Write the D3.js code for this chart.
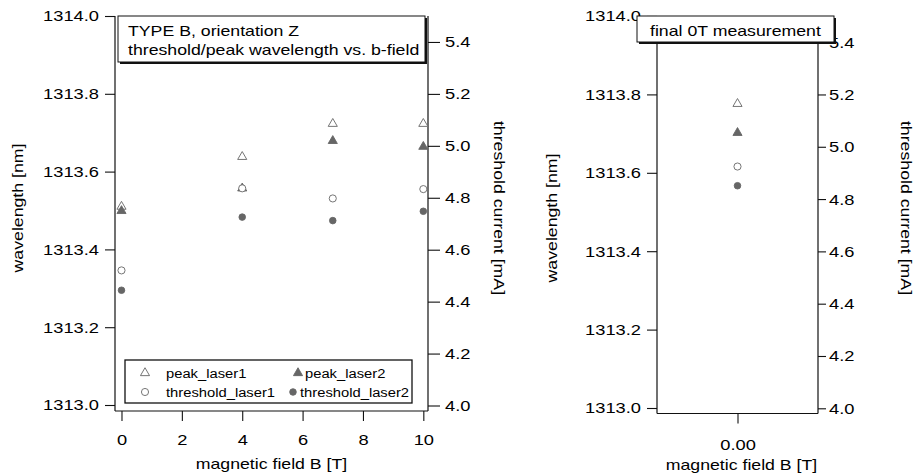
<!DOCTYPE html>
<html>

<head>
    <meta charset="UTF-8">
    <style>
        body { margin: 0; background: #fff; }
        svg { display: block; font-family: "Liberation Sans", Arial, Helvetica, sans-serif; }
    </style>
</head>

<body>
    <svg></svg>
    <script src="https://d3js.org/d3.v7.min.js"></script>

    <script>

        let width = 916, height = 474;

        // data (wavelength in nm)
        let fieldB = [0, 4, 7, 10];
        let peakLaser1 = [1313.510, 1313.638, 1313.723, 1313.723];
        let peakLaser2 = [1313.499, 1313.557, 1313.679, 1313.664];
        let thresholdLaser1 = [1313.346, 1313.557, 1313.531, 1313.555];
        let thresholdLaser2 = [1313.295, 1313.483, 1313.474, 1313.498];

        let finalB = [0];
        let finalPeak1 = [1313.776];
        let finalPeak2 = [1313.702];
        let finalThreshold1 = [1313.616];
        let finalThreshold2 = [1313.567];

        let wavelengthTicks = [1313.0, 1313.2, 1313.4, 1313.6, 1313.8, 1314.0];
        let currentTicks = [4.0, 4.2, 4.4, 4.6, 4.8, 5.0, 5.2, 5.4];
        let fieldTicks = [0, 2, 4, 6, 8, 10];
        let finalTicks = [0];

        let seriesNames = ["peak_laser1", "peak_laser2", "threshold_laser1", "threshold_laser2"];

        let svg = d3.select("svg")
            .attr("width", width)
            .attr("height", height)
            .attr("viewBox", "0 0 " + width + " " + height)

        const K = 1.18; // the glyphs in the picture are wider than Arial

        function stretch(sel) {
            sel.each(function () {
                let w = this.getComputedTextLength();
                d3.select(this).attr("textLength", w * K).attr("lengthAdjust", "spacingAndGlyphs");
            });
        }

        // marker styles for the 4 series
        let styles = [
            { shape: d3.symbolTriangle, fill: "#fff", size: 36 },
            { shape: d3.symbolTriangle, fill: "#666", size: 36 },
            { shape: d3.symbolCircle, fill: "#fff", size: 40 },
            { shape: d3.symbolCircle, fill: "#666", size: 34 }
        ];

        function drawMarker(g, s, x, y) {
            g.append("path")
                .attr("d", d3.symbol().type(s.shape).size(s.size)())
                .attr("transform", "translate(" + x + "," + y + ")")
                .attr("fill", s.fill)
                .attr("stroke", "#666")
                .attr("stroke-width", 0.9);
        }

        function panel(p) {
            let g = svg.append("g");

            // frame lines: left, right, bottom
            g.append("line").attr("x1", p.x0).attr("x2", p.x0).attr("y1", 16).attr("y2", p.bottom);
            g.append("line").attr("x1", p.x1).attr("x2", p.x1).attr("y1", 16).attr("y2", p.bottom);
            g.append("line").attr("x1", p.x0).attr("x2", p.x1).attr("y1", p.bottom).attr("y2", p.bottom);
            g.selectAll("line").attr("stroke", "#111").attr("stroke-width", 1.2);

            let axL = g.append("g")
                .attr("transform", "translate(" + p.x0 + ",0)")
                .call(d3.axisLeft(p.yW).tickValues(wavelengthTicks).tickFormat(d3.format(".1f")).tickSize(10).tickSizeOuter(0).tickPadding(6));
            let axR = g.append("g")
                .attr("transform", "translate(" + p.x1 + ",0)")
                .call(d3.axisRight(p.yI).tickValues(currentTicks).tickFormat(d3.format(".1f")).tickSize(p.rTick).tickSizeOuter(0).tickPadding(p.rPad));
            let axB = g.append("g")
                .attr("transform", "translate(0," + p.bottom + ")")
                .call(d3.axisBottom(p.x).tickValues(p.xTicks).tickFormat(p.xFormat).tickSize(10).tickSizeOuter(0).tickPadding(p.bPad));

            [axL, axR, axB].forEach(a => {
                a.select(".domain").remove();
                a.selectAll("line").attr("stroke", "#111").attr("stroke-width", 1.1);
                a.selectAll("text").attr("font-size", 15.5).attr("font-family", null).attr("fill", "#000");
                stretch(a.selectAll("text"));
            });

            // axis titles
            g.append("text")
                .attr("transform", "translate(" + p.lt + "," + p.ltY + ") rotate(-90)")
                .attr("text-anchor", "middle").attr("font-size", 15).attr("fill", "#000")
                .text("wavelength [nm]");
            g.append("text")
                .attr("transform", "translate(" + p.rt + ",208) rotate(90)")
                .attr("text-anchor", "middle").attr("font-size", 15).attr("fill", "#000")
                .text("threshold current [mA]");
            g.append("text")
                .attr("x", (p.x0 + p.x1) / 2 + p.btDx).attr("y", p.bt)
                .attr("text-anchor", "middle").attr("font-size", 15).attr("fill", "#000")
                .text("magnetic field B [T]");
            stretch(g.selectAll(":scope > text"));

            // markers
            let marks = g.append("g");
            p.series.forEach((vals, i) => {
                vals.forEach((v, j) => drawMarker(marks, styles[i], p.x(p.xs[j]), p.yW(v)));
            });

            // annotation box with drop shadow
            let b = p.box;
            g.append("rect").attr("x", b.x + 2).attr("y", b.y + 2).attr("width", b.w).attr("height", b.h).attr("fill", "#111");
            g.append("rect").attr("x", b.x).attr("y", b.y).attr("width", b.w).attr("height", b.h)
                .attr("fill", "#fff").attr("stroke", "#111").attr("stroke-width", 1);
            b.lines.forEach((t, i) => {
                g.append("text").attr("class", "note")
                    .attr("x", b.tx).attr("y", b.ty + i * 19)
                    .attr("font-size", 15).attr("fill", "#000")
                    .text(t);
            });
            stretch(g.selectAll(".note"));
            return g;
        }

        panel({
            x: d3.scaleLinear().domain([-0.215, 10.155]).range([115, 428]),
            yW: d3.scaleLinear().domain([1313, 1314]).range([405, 16]),
            yI: d3.scaleLinear().domain([4.0, 5.5]).range([405.5, 16]),
            x0: 115, x1: 428, bottom: 411,
            rTick: 12, rPad: 5, bPad: 13,
            xTicks: fieldTicks, xFormat: d3.format("d"),
            lt: 23, ltY: 208, rt: 494, bt: 469, btDx: 0,
            xs: fieldB,
            series: [peakLaser1, peakLaser2, thresholdLaser1, thresholdLaser2],
            box: { x: 118, y: 16, w: 307, h: 46, tx: 128, ty: 36, lines: ["TYPE B, orientation Z", "threshold/peak wavelength vs. b-field"] }
        });

        panel({
            x: d3.scaleLinear().domain([-1, 1]).range([657, 818]),
            yW: d3.scaleLinear().domain([1313, 1314]).range([408, 16]),
            yI: d3.scaleLinear().domain([4.0, 5.5]).range([408.3, 16]),
            x0: 657, x1: 818, bottom: 413.5,
            rTick: 8, rPad: 3, bPad: 15,
            xTicks: finalTicks, xFormat: d3.format(".2f"),
            lt: 557, ltY: 218, rt: 901, bt: 470, btDx: 4,
            xs: finalB,
            series: [finalPeak1, finalPeak2, finalThreshold1, finalThreshold2],
            box: { x: 637, y: 16, w: 197, h: 26, tx: 650, ty: 36, lines: ["final 0T measurement"] }
        });

        // legend in the left panel
        let legend = svg.append("g");
        legend.append("rect")
            .attr("x", 125).attr("y", 360).attr("width", 287).attr("height", 43)
            .attr("fill", "#fff").attr("stroke", "#111").attr("stroke-width", 1.3);

        let legendPos = [
            { mx: 145, tx: 166, y: 373 },
            { mx: 298, tx: 305, y: 373 },
            { mx: 145, tx: 166, y: 392 },
            { mx: 293, tx: 300, y: 392 }
        ];
        seriesNames.forEach((name, i) => {
            let lp = legendPos[i];
            drawMarker(legend, styles[i], lp.mx, lp.y);
            legend.append("text")
                .attr("x", lp.tx).attr("y", lp.y + 4.5)
                .attr("font-size", 12.5).attr("fill", "#000")
                .text(name);
        });
        stretch(legend.selectAll("text"));

    </script>
</body>

</html>
